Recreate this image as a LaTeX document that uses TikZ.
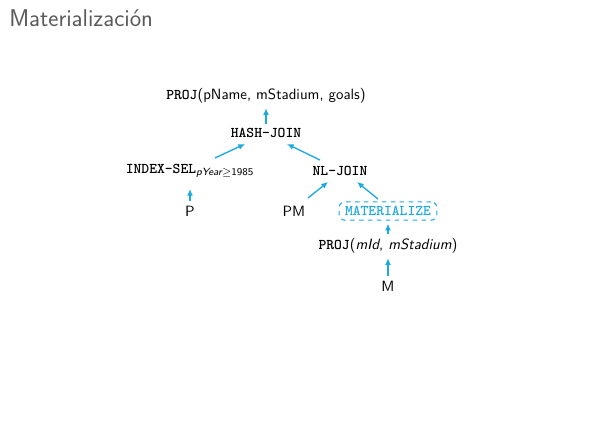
\documentclass[tikz,border=0pt]{standalone}
\usepackage{fontspec}
\newfontfamily\optt{lmmonolt10-bold}[Extension=.otf]
\usetikzlibrary{arrows.meta}
\definecolor{arr}{RGB}{28,168,224}
\definecolor{ttl}{RGB}{90,90,90}
\newcommand{\opn}[1]{{\optt #1}}
\begin{document}
\begin{tikzpicture}[x=0.672pt,y=-0.672pt,
  op/.style={font=\sffamily\fontsize{10}{12}\selectfont, inner sep=1pt},
  conn/.style={draw=arr, line width=0.9pt, -{Latex[length=4.5pt,width=4pt]}},
  vconn/.style={conn, shorten <=2pt, shorten >=2pt},
  matbox/.style={draw=arr, dashed, rounded corners=4pt, line width=0.7pt, text=arr, inner xsep=4pt, inner ysep=3pt}]
\useasboundingbox (0,0) rectangle (589,427);
\node[anchor=west, text=ttl, inner sep=0pt, font=\sffamily\fontsize{16.3}{19}\selectfont] (title) at (9,18) {Materialización};
\node[op] (proj) at (266,96) {\opn{PROJ}(pName, mStadium, goals)};
\node[op] (hash) at (266,133) {\opn{HASH-JOIN}};
\node[op] (isel) at (190,171) {\opn{INDEX-SEL}\textsubscript{\itshape pYear$\geq$\upshape 1985}};
\node[op] (nl) at (340,171) {\opn{NL-JOIN}};
\node[op] (p) at (190,211) {P};
\node[op] (pm) at (294,211) {PM};
\node[op, matbox] (mat) at (388,211) {\opn{MATERIALIZE}};
\node[op] (proj2) at (388,246) {\opn{PROJ}(\textit{mId}, \textit{mStadium})};
\node[op] (m) at (388,286) {M};
\draw[vconn] (hash) -- (proj);
\draw[conn] (215,158) coordinate (a1) -- (245,144) coordinate (b1);
\draw[conn] (320,160) coordinate (a2) -- (287,144) coordinate (b2);
\draw[vconn] (p) -- (190,186) coordinate (b3);
\draw[conn] (308,198) coordinate (a4) -- (328,182) coordinate (b4);
\draw[conn] (378,199) coordinate (a5) -- (357,182) coordinate (b5);
\draw[vconn] (proj2) -- (mat);
\draw[vconn] (m) -- (proj2);
\end{tikzpicture}
\end{document}
